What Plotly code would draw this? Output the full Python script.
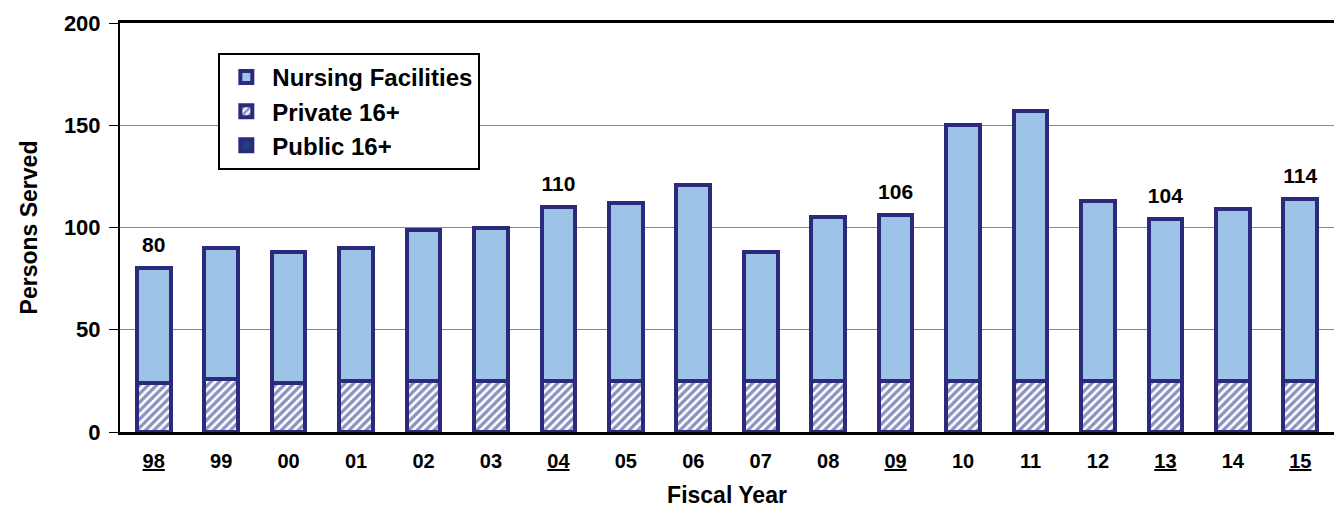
import plotly.graph_objects as go

years = ["98","99","00","01","02","03","04","05","06","07","08","09","10","11","12","13","14","15"]
totals = [80, 90, 88, 90, 99, 100, 110, 112, 121, 88, 105, 106, 150, 157, 113, 104, 109, 114]
private16 = [24, 26, 24, 25, 25, 25, 25, 25, 25, 25, 25, 25, 25, 25, 25, 25, 25, 25]
public16 = [0]*18
nursing = [t - p - q for t, p, q in zip(totals, private16, public16)]
labeled = ["98", "04", "09", "13", "15"]

tick_text = [f'<b><span style="text-decoration:underline">{y}</span></b>' if y in labeled else f"<b>{y}</b>" for y in years]
bar_labels = [f"<b>{t}</b>" if y in labeled else "" for y, t in zip(years, totals)]

NAVY = "#2B2A7C"
FONT = "Liberation Sans, Arial, sans-serif"
BW = 0.5

fig = go.Figure()
fig.add_bar(x=years, y=public16, name="<b>Public 16+</b>", marker=dict(color="#1F3F7F", line=dict(color=NAVY, width=4)), width=BW)
fig.add_bar(x=years, y=private16, name="<b>Private 16+</b>",
            marker=dict(color="white", line=dict(color=NAVY, width=4),
                        pattern=dict(shape="/", fgcolor="#1A2580", bgcolor="white", size=6, solidity=0.55)), width=BW)
fig.add_bar(x=years, y=nursing, name="<b>Nursing Facilities</b>", marker=dict(color="#9DC3E6", line=dict(color=NAVY, width=4)), width=BW)
fig.add_scatter(x=years, y=totals, mode="markers+text", text=bar_labels, textposition="top center",
                marker=dict(size=16, opacity=0),
                textfont=dict(family=FONT, size=21, color="black"), showlegend=False, cliponaxis=False,
                hoverinfo="skip")

fig.update_layout(
    barmode="stack",
    width=1334, height=508,
    margin=dict(l=120, r=0, t=23, b=76),
    plot_bgcolor="white", paper_bgcolor="white",
    font=dict(family=FONT, color="black"),
    showlegend=True,
    legend=dict(x=0.081, y=0.927, xanchor="left", yanchor="top", traceorder="reversed",
                bordercolor="black", borderwidth=2, bgcolor="white",
                font=dict(family=FONT, size=24, color="black"), itemwidth=42,
                tracegroupgap=0),
)
fig.update_xaxes(type="category", range=[-0.5, 17.5], automargin=False,
                 tickmode="array", tickvals=years, ticktext=tick_text,
                 tickfont=dict(family=FONT, size=20),
                 showline=True, linecolor="black", linewidth=3, mirror=True, ticks="",
                 ticklabelstandoff=9,
                 title=dict(text="<b>Fiscal Year</b>", font=dict(size=23), standoff=25))
fig.update_yaxes(range=[0, 200], tickvals=[0, 50, 100, 150, 200], tickfont=dict(size=22),
                 ticktext=["<b>0</b>", "<b>50</b>", "<b>100</b>", "<b>150</b>", "<b>200</b>"],
                 automargin=False,
                 showgrid=True, gridcolor="#888888", gridwidth=1,
                 showline=True, linecolor="black", linewidth=2, mirror=False,
                 ticks="outside", ticklen=9, tickcolor="black", tickwidth=1, ticklabelstandoff=4,
                 title=dict(text="<b>Persons Served</b>", font=dict(size=23), standoff=20),
                 zeroline=False)

fig.write_html("out.html", config={"displayModeBar": False},
               post_script="document.body.style.margin='0';document.body.style.overflow='hidden';")
